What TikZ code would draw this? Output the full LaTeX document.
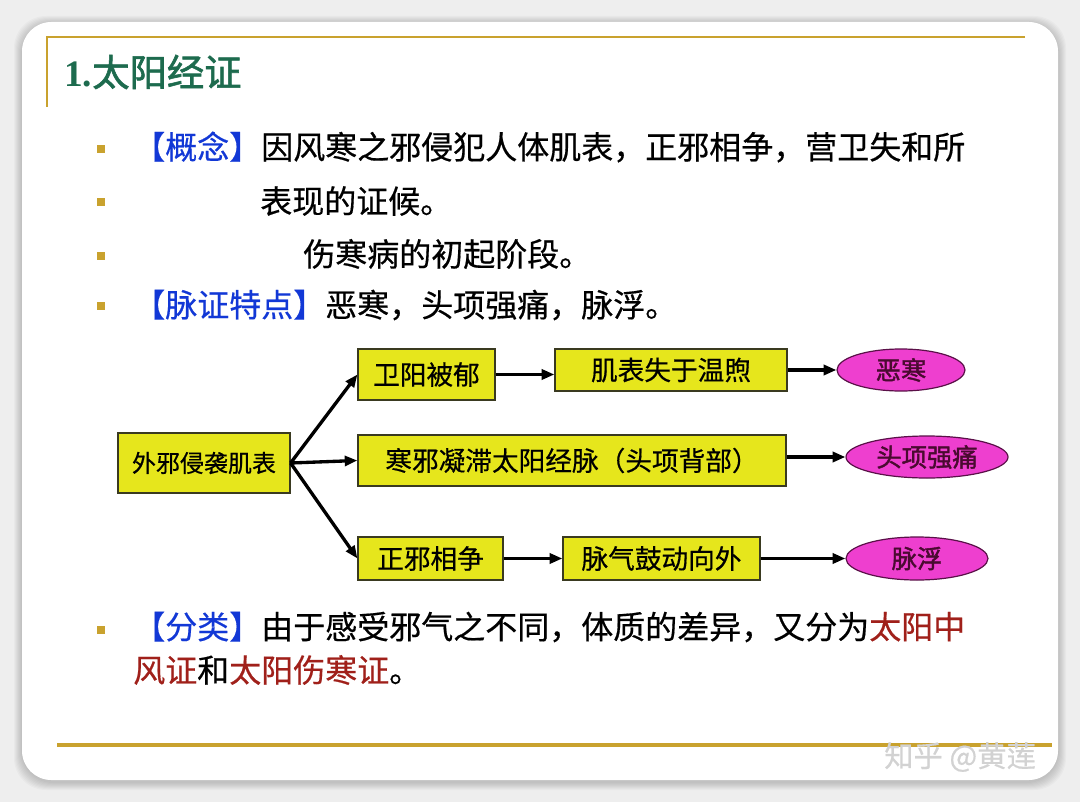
\documentclass[tikz,border=0pt]{standalone}
\usepackage{fontspec}
\setmainfont{Liberation Serif}
\newfontfamily\cjk{Noto Sans CJK SC}[FakeBold=0.5]
\newfontfamily\cjkb{Noto Sans CJK SC}[FakeBold=1.6]
\usetikzlibrary{arrows.meta,shapes.geometric}
\definecolor{bggray}{HTML}{EEEEEE}
\definecolor{gold}{HTML}{C9A22E}
\definecolor{titlegreen}{HTML}{1D6B4E}
\definecolor{kwblue}{HTML}{1238D6}
\definecolor{kwred}{HTML}{A0201A}
\definecolor{boxyellow}{HTML}{E6E61C}
\definecolor{boxedge}{HTML}{3A3A20}
\definecolor{pillfill}{HTML}{EE3FCF}
\definecolor{pilledge}{HTML}{5A1048}
\definecolor{pilltext}{HTML}{4A0A30}
\tikzset{
  ybox/.style={draw=boxedge, fill=boxyellow, line width=0.9pt, inner sep=0pt,
    font=\cjk\fontsize{20}{22}\selectfont},
  pill/.style={ellipse, draw=pilledge, fill=pillfill, line width=0.9pt, inner sep=0pt,
    text=pilltext, font=\cjkb\fontsize{19}{21}\selectfont},
  conn/.style={line width=2.5pt, -{Triangle[length=9.5pt,width=7.5pt]}},
  txtline/.style={anchor=west, inner sep=0pt, font=\cjk\fontsize{24}{26}\selectfont},
  bsq/.style={fill=gold, inner sep=0pt, minimum size=6.5pt},
  goldline/.style={draw=gold, line width=2pt},
}
\begin{document}
\begin{tikzpicture}[x=0.75pt,y=-0.75pt]
\useasboundingbox (0,0) rectangle (1080,802);
\fill[bggray] (0,0) rectangle (1080,802);
% card shadow
\foreach \i in {1,...,8}{
  \fill[black,opacity=0.025,rounded corners=24pt] (22-\i,24-\i) rectangle (1058+\i,782+\i);
}
\fill[white,rounded corners=22pt] (22,22) rectangle (1058,780);
% gold frame lines
\coordinate (tl) at (47,37);
\coordinate (tr) at (1025,37);
\coordinate (lb) at (47,107);
\coordinate (bl) at (57,745);
\coordinate (br) at (1052,745);
\draw[goldline] (tr) -- (tl) -- (lb);
\draw[draw=gold,line width=2.6pt] (bl) -- (br);
% title
\node[anchor=west,inner sep=0pt,text=titlegreen] (title) at (64,72)
  {\fontsize{28}{30}\selectfont\textbf{1.}\cjkb 太阳经证};
% bullets
\node[bsq] (b1) at (101,149) {};
\node[bsq] (b2) at (101,202) {};
\node[bsq] (b3) at (101,256) {};
\node[bsq] (b4) at (101,306) {};
\node[bsq] (b5) at (101,630) {};
% text lines
\node[txtline] (l1) at (133,147) {\textcolor{kwblue}{【概念】}因风寒之邪侵犯人体肌表，正邪相争，营卫失和所};
\node[txtline] (l2) at (260,201) {表现的证候。};
\node[txtline] (l3) at (303,254) {伤寒病的初起阶段。};
\node[txtline] (l4) at (133,305) {\textcolor{kwblue}{【脉证特点】}恶寒，头项强痛，脉浮。};
\node[txtline] (l5) at (133,627) {\textcolor{kwblue}{【分类】}由于感受邪气之不同，体质的差异，又分为\textcolor{kwred}{太阳中}};
\node[txtline] (l6) at (133,670) {\textcolor{kwred}{风证}和\textcolor{kwred}{太阳伤寒证}。};
% flowchart
\node[ybox, minimum width=129pt, minimum height=45pt, font=\cjk\fontsize{18}{20}\selectfont] (A) at (204,463) {外邪侵袭肌表};
\node[ybox, minimum width=102.75pt, minimum height=38.25pt] (B1) at (426.5,374.5) {卫阳被郁};
\node[ybox, minimum width=321pt, minimum height=38.25pt] (B2) at (572,460.5) {寒邪凝滞太阳经脉（头项背部）};
\node[ybox, minimum width=108.75pt, minimum height=32.25pt] (B3) at (430.5,558.5) {正邪相争};
\node[ybox, minimum width=174pt, minimum height=31.5pt] (C1) at (671,370) {肌表失于温煦};
\node[ybox, minimum width=147.75pt, minimum height=32.25pt] (C3) at (661.5,558.5) {脉气鼓动向外};
\node[pill, minimum width=96pt, minimum height=31.5pt] (E1) at (901,370) {恶寒};
\node[pill, minimum width=121.5pt, minimum height=31.5pt] (E2) at (927,457) {头项强痛};
\node[pill, minimum width=106.5pt, minimum height=32.25pt] (E3) at (917,558.5) {脉浮};
% connectors
\draw[conn] (A.east) -- (B1.west);
\draw[conn] (A.east) -- (B2.west);
\draw[conn] (A.east) -- (B3.west);
\draw[conn] (B1.east) -- (C1.west |- B1.east);
\draw[conn] (C1.east) -- (E1.west);
\draw[conn] (B2.east |- E2.west) -- (E2.west);
\draw[conn] (B3.east) -- (C3.west);
\draw[conn] (C3.east) -- (E3.west);
% watermark
\node[anchor=west,inner sep=0pt,text=gray!35] (wm) at (884,757)
  {\cjk\fontsize{22}{24}\selectfont 知乎 @黄莲};
\end{tikzpicture}
\end{document}
